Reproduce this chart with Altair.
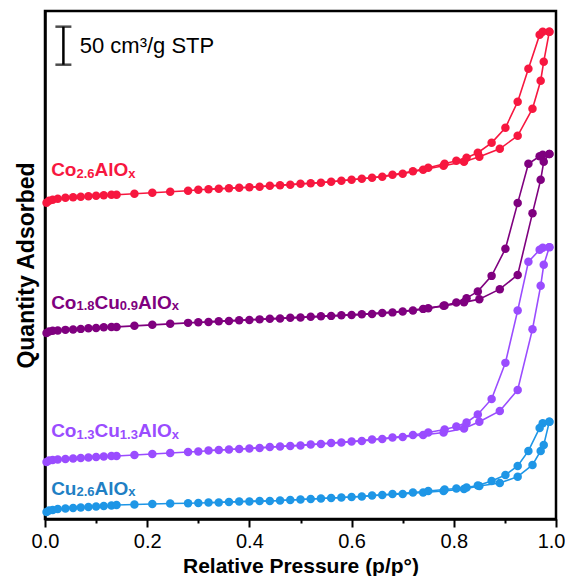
import altair as alt
import pandas as pd

# Relative pressure points (shared by all samples)
P_ADS = [0.003, 0.008, 0.015, 0.025, 0.04, 0.055, 0.07, 0.085, 0.10, 0.115, 0.13, 0.14,
         0.175, 0.21, 0.245, 0.28, 0.30, 0.34, 0.38, 0.42, 0.46, 0.50, 0.54, 0.58, 0.62,
         0.66, 0.70, 0.74, 0.78, 0.82, 0.85, 0.89, 0.925, 0.954, 0.97, 0.976, 0.987]
P_DES = [0.987, 0.974, 0.968, 0.946, 0.925, 0.901, 0.874, 0.847, 0.825, 0.805, 0.782,
         0.75, 0.72, 0.68, 0.64, 0.60, 0.56, 0.52, 0.48, 0.44, 0.40, 0.36, 0.32]

# Quantity adsorbed (cm3/g STP, curves offset vertically)
CO26_ADS = [415.8, 418.4, 419.7, 421.0, 422.4, 423.0, 423.7, 424.4, 425.0, 425.7, 426.3, 426.3,
            427.6, 429.0, 430.3, 431.6, 432.9, 434.2, 435.5, 436.8, 438.8, 440.8, 442.1, 444.7,
            447.4, 450.0, 454.0, 459.2, 464.5, 469.7, 476.3, 486.8, 503.9, 539.5, 576.3, 601.3, 640.8]
CO26_DES = [640.8, 640.8, 636.8, 592.1, 548.7, 514.5, 494.7, 481.6, 475.0, 471.0, 467.1,
            461.8, 457.2, 452.6, 448.7, 446.0, 443.4, 441.4, 439.5, 438.2, 436.2, 434.9, 433.6]

CO18_ADS = [244.7, 246.7, 247.4, 248.0, 248.7, 249.3, 250.0, 250.7, 251.3, 252.0, 252.6, 252.6,
            254.0, 255.3, 256.6, 257.9, 258.6, 259.9, 261.2, 262.5, 263.8, 265.1, 266.5, 267.8,
            269.1, 271.0, 273.0, 276.3, 280.3, 284.9, 289.1, 302.2, 321.0, 402.2, 446.0, 469.7, 479.9]
CO18_DES = [479.9, 479.0, 477.0, 467.1, 415.4, 355.3, 319.7, 299.3, 290.4, 284.6, 280.7,
            277.0, 274.3, 271.7, 269.7, 268.4, 267.1, 265.8, 264.5, 263.2, 261.8, 260.5, 259.2]

CO13_ADS = [75.0, 77.0, 77.6, 78.3, 78.9, 79.6, 80.3, 80.9, 81.6, 82.2, 82.9, 82.9,
            84.2, 85.5, 86.8, 88.2, 88.8, 90.8, 92.1, 93.4, 95.4, 96.7, 98.7, 100.7,
            102.6, 105.3, 107.9, 110.5, 113.8, 119.1, 128.0, 142.1, 169.7, 249.6, 306.6, 334.2, 357.5]
CO13_DES = [357.5, 356.6, 354.0, 338.2, 274.1, 205.3, 157.9, 137.5, 127.0, 121.7, 117.8,
            113.8, 110.5, 107.2, 104.6, 102.0, 100.0, 98.0, 96.1, 94.7, 92.8, 91.4, 90.1]

CU26_ADS = [9.2, 11.2, 11.8, 13.2, 13.8, 14.5, 15.1, 15.8, 16.4, 17.1, 17.8, 18.4,
            19.1, 19.7, 20.4, 20.7, 21.1, 21.7, 23.0, 23.7, 24.3, 25.7, 27.0, 28.3,
            29.6, 31.6, 32.9, 34.9, 36.8, 39.5, 43.4, 47.4, 55.7, 71.1, 89.5, 97.4, 128.0]
CU26_DES = [128.0, 125.9, 119.7, 89.5, 69.7, 57.9, 50.0, 44.1, 41.4, 40.1, 38.8,
            36.8, 34.9, 32.9, 30.9, 28.9, 27.6, 26.3, 25.0, 23.7, 23.0, 22.4, 21.7]

SERIES = ["Co2.6AlOx", "Co1.8Cu0.9AlOx", "Co1.3Cu1.3AlOx", "Cu2.6AlOx"]
COLORS = ["#f7173f", "#7f007f", "#9a4cff", "#1e96e6"]
LABEL_COLORS = ["#f7173f", "#7f007f", "#9a4cff", "#1f7fc4"]
# label pieces: (text, is_subscript)
LABEL_PARTS = [
    [("Co", False), ("2.6", True), ("AlO", False), ("x", True)],
    [("Co", False), ("1.8", True), ("Cu", False), ("0.9", True), ("AlO", False), ("x", True)],
    [("Co", False), ("1.3", True), ("Cu", False), ("1.3", True), ("AlO", False), ("x", True)],
    [("Cu", False), ("2.6", True), ("AlO", False), ("x", True)],
]
LABEL_P = [0.012, 0.012, 0.012, 0.012]
LABEL_Q = [450.4, 276.3, 107.5, 31.6]

# scale bar: 50 cm3/g
BAR_P = [0.036]
BAR_LO = [597.4]
BAR_HI = [647.4]
BAR_TEXT = ["50 cm³/g STP"]
BAR_TEXT_P = [0.068]
BAR_TEXT_Q = [622.4]

X_TICKS = [0.0, 0.1, 0.2, 0.3, 0.4, 0.5, 0.6, 0.7, 0.8, 0.9, 1.0]

FONT = "Liberation Sans"
LABEL_SIZE = 19
SUB_SIZE = 13
# Arial/Liberation Sans Bold advance widths (per 1000 em)
BOLD_W = {"C": 722, "o": 611, "u": 611, "A": 722, "l": 278, "O": 778, "x": 556, ".": 278}
for d in "0123456789":
    BOLD_W[d] = 556

rows = []
branches = [(CO26_ADS, CO26_DES), (CO18_ADS, CO18_DES), (CO13_ADS, CO13_DES), (CU26_ADS, CU26_DES)]
for name, (ads, des) in zip(SERIES, branches):
    for i, (p, q) in enumerate(zip(P_ADS, ads)):
        rows.append({"series": name, "branch": "ads", "idx": i, "p": p, "q": q})
    for i, (p, q) in enumerate(zip(P_DES, des)):
        rows.append({"series": name, "branch": "des", "idx": i, "p": p, "q": q})
df = pd.DataFrame(rows)

seg_rows = []
for parts, p, q, col in zip(LABEL_PARTS, LABEL_P, LABEL_Q, LABEL_COLORS):
    off = 0.0
    for txt, sub in parts:
        size = SUB_SIZE if sub else LABEL_SIZE
        seg_rows.append({"t": txt, "p": p, "q": q, "col": col, "sub": sub, "dx": off})
        off += sum(BOLD_W[c] for c in txt) * size / 1000.0
seg_df = pd.DataFrame(seg_rows)
norm_df = seg_df[~seg_df["sub"]].drop(columns="sub")
sub_df = seg_df[seg_df["sub"]].drop(columns="sub")

bar_df = pd.DataFrame({"p": BAR_P, "q": BAR_LO, "q2": BAR_HI})
cap_df = pd.DataFrame({"p": BAR_P * 2, "q": BAR_LO + BAR_HI})
bar_text_df = pd.DataFrame({"p": BAR_TEXT_P, "q": BAR_TEXT_Q, "t": BAR_TEXT})

x_enc = alt.X(
    "p:Q",
    scale=alt.Scale(domain=[0, 1], nice=False, zero=False),
    axis=alt.Axis(
        title="Relative Pressure (p/p°)",
        values=X_TICKS,
        labelExpr="round(datum.value*10)%2===0 ? format(datum.value,'.1f') : ''",
        tickSize={"condition": {"test": "round(datum.value*10)%2===0", "value": 8}, "value": 4},
        labelAlign={"condition": {"test": "datum.value >= 0.99", "value": "right"}, "value": "center"},
        labelOffset={"condition": {"test": "datum.value >= 0.99", "value": 9}, "value": 0},
        tickColor="black",
        tickWidth=2,
        domainColor="black",
        domainWidth=2.5,
        grid=False,
        labelFont=FONT,
        labelFontSize=20,
        labelColor="black",
        labelPadding=4,
        labelFlush=False,
        titleFont=FONT,
        titleFontSize=21,
        titleFontWeight="bold",
        titleColor="black",
        titlePadding=4,
    ),
)
y_enc = alt.Y(
    "q:Q",
    scale=alt.Scale(domain=[0, 668], nice=False, zero=False),
    axis=alt.Axis(
        title="Quantity Adsorbed",
        labels=False,
        ticks=False,
        grid=False,
        domainColor="black",
        domainWidth=2.5,
        titleFont=FONT,
        titleFontSize=23,
        titleFontWeight="bold",
        titleColor="black",
        titlePadding=7,
    ),
)

color_enc = alt.Color("series:N", scale=alt.Scale(domain=SERIES, range=COLORS), legend=None)

lines = alt.Chart(df).mark_line(strokeWidth=1.6).encode(
    x=x_enc, y=y_enc, color=color_enc, detail="branch:N", order="idx:Q"
)
points = alt.Chart(df).mark_circle(size=72, opacity=1).encode(
    x="p:Q", y="q:Q", color=color_enc
)
labels_norm = alt.Chart(norm_df).mark_text(
    align="left", baseline="alphabetic", fontSize=LABEL_SIZE, fontWeight="bold", font=FONT,
    dx=alt.expr("datum.dx"),
).encode(x="p:Q", y="q:Q", text="t:N", color=alt.Color("col:N", scale=None))
labels_sub = alt.Chart(sub_df).mark_text(
    align="left", baseline="alphabetic", fontSize=SUB_SIZE, fontWeight="bold", font=FONT,
    dx=alt.expr("datum.dx"), dy=1.5,
).encode(x="p:Q", y="q:Q", text="t:N", color=alt.Color("col:N", scale=None))

bar = alt.Chart(bar_df).mark_rule(color="black", strokeWidth=2.5).encode(
    x="p:Q", y="q:Q", y2="q2:Q"
)
caps = alt.Chart(cap_df).mark_tick(orient="horizontal", size=16, thickness=2.5, color="black").encode(
    x="p:Q", y="q:Q"
)
bar_text = alt.Chart(bar_text_df).mark_text(
    align="left", baseline="middle", fontSize=22, font=FONT, color="black"
).encode(x="p:Q", y="q:Q", text="t:N")

chart = alt.layer(lines, points, labels_norm, labels_sub, bar, caps, bar_text).properties(
    width=511, height=508,
    padding={"left": 7, "top": 3, "right": 0, "bottom": 0},
    background="white",
).configure_view(stroke="black", strokeWidth=2.5)

chart.save("out.html", embed_options={"renderer": "svg", "actions": False})
